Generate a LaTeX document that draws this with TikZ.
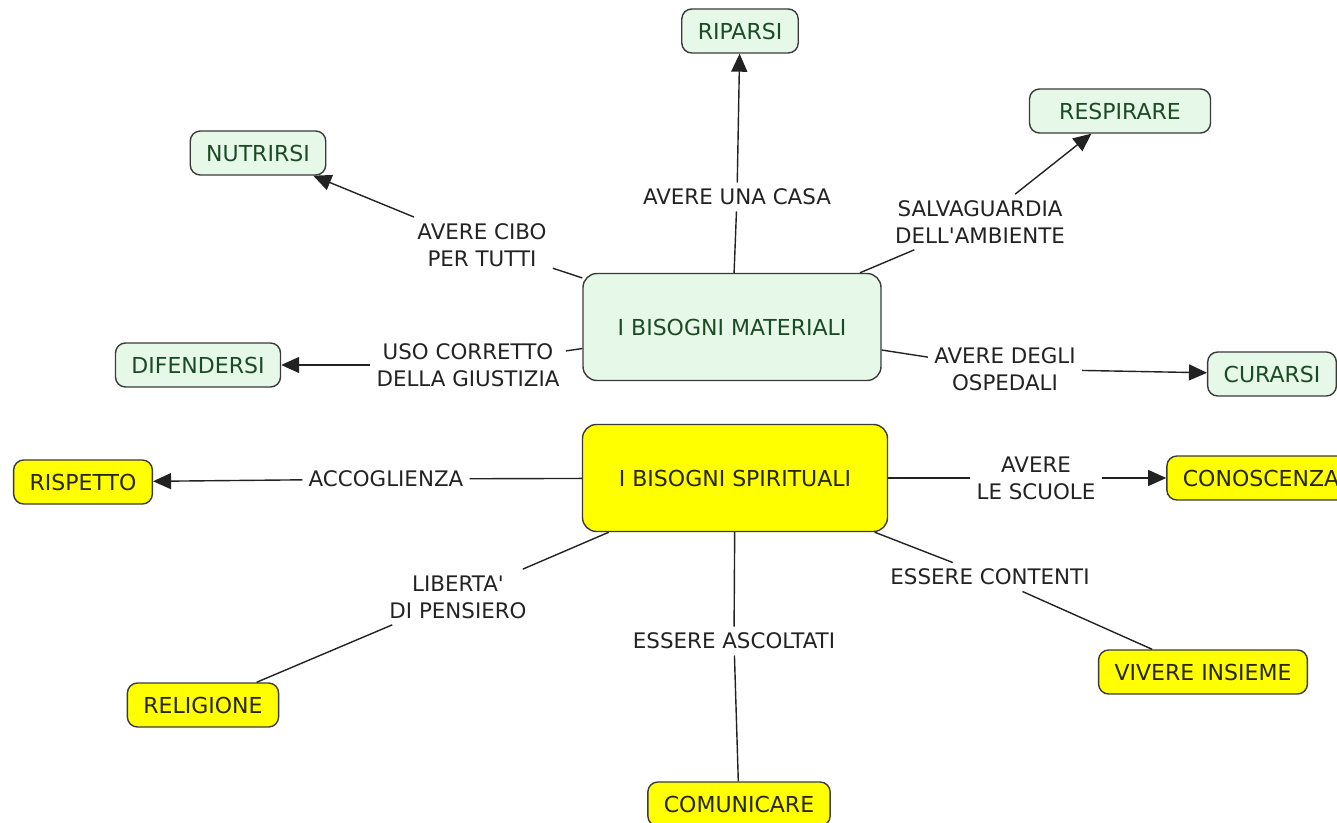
\documentclass[tikz,border=0pt]{standalone}
\usepackage{fontspec}
\setmainfont{DejaVu Sans}
\usetikzlibrary{arrows.meta}
\definecolor{matfill}{HTML}{E6F9E9}
\definecolor{mattext}{HTML}{1D4A26}
\definecolor{spifill}{HTML}{FFFF00}
\definecolor{spitext}{HTML}{262600}
\definecolor{boxline}{HTML}{3A3A3A}
\definecolor{linkgray}{HTML}{222222}
\tikzset{
	conceptbox/.style={draw=boxline, rounded corners=5pt, line width=0.7pt, minimum height=22pt, inner xsep=8pt, font=\fontsize{11}{13.5}\selectfont},
	matbox/.style={conceptbox, fill=matfill, text=mattext},
	spibox/.style={conceptbox, fill=spifill, text=spitext},
	bigbox/.style={minimum height=53.5pt, rounded corners=7pt},
	linklabel/.style={align=center, text=linkgray, inner sep=3pt, font=\fontsize{10.7}{13.5}\selectfont},
	link/.style={line width=0.7pt, draw=linkgray},
	arrowlink/.style={link, -{Triangle[length=9pt,width=8pt]}}
}
\begin{document}
\begin{tikzpicture}[x=0.5pt,y=-0.5pt]
			%%%%% START %%%%%
			\useasboundingbox (0,0) rectangle (1337,823);
			
			\node[matbox, bigbox, minimum width=149pt] (materiali) at (732,327) {I BISOGNI MATERIALI};
			\node[spibox, bigbox, minimum width=152.5pt] (spirituali) at (735,478) {I BISOGNI SPIRITUALI};
			
			\node[matbox] (riparsi) at (740,31) {RIPARSI};
			\node[matbox, minimum width=90.5pt] (respirare) at (1120,111) {RESPIRARE};
			\node[matbox] (nutrirsi) at (258,153) {NUTRIRSI};
			\node[matbox] (difendersi) at (198,365) {DIFENDERSI};
			\node[matbox] (curarsi) at (1272,374) {CURARSI};
			
			\node[spibox] (rispetto) at (83,482) {RISPETTO};
			\node[spibox] (conoscenza) at (1261,478) {CONOSCENZA};
			\node[spibox] (religione) at (203,705) {RELIGIONE};
			\node[spibox] (vivere) at (1203,672) {VIVERE INSIEME};
			\node[spibox] (comunicare) at (739,804) {COMUNICARE};
			
			\node[linklabel] (lcasa) at (737,197) {AVERE UNA CASA};
			\node[linklabel] (lcibo) at (482,245) {AVERE CIBO\\PER TUTTI};
			\node[linklabel] (lambiente) at (980,222) {SALVAGUARDIA\\DELL\textquotesingle AMBIENTE};
			\node[linklabel] (lgiustizia) at (468,365) {USO CORRETTO\\DELLA GIUSTIZIA};
			\node[linklabel] (lospedali) at (1005,369) {AVERE DEGLI\\OSPEDALI};
			
			\node[linklabel] (laccoglienza) at (386,479) {ACCOGLIENZA};
			\node[linklabel] (lscuole) at (1036,478) {AVERE\\LE SCUOLE};
			\node[linklabel] (lpensiero) at (458,597) {LIBERTA\textquotesingle\\DI PENSIERO};
			\node[linklabel] (lcontenti) at (990,577) {ESSERE CONTENTI};
			\node[linklabel] (lascoltati) at (734,641) {ESSERE ASCOLTATI};
			
			\draw[link] (materiali) -- (lcasa);
			\draw[arrowlink] (lcasa) -- (riparsi);
			\draw[link] (materiali) -- (lcibo);
			\draw[arrowlink] (lcibo) -- (nutrirsi);
			\draw[link] (materiali) -- (lambiente);
			\draw[arrowlink] (lambiente) -- (respirare);
			\draw[link] (materiali) -- (lgiustizia);
			\draw[arrowlink] (lgiustizia) -- (difendersi);
			\draw[link] (materiali) -- (lospedali);
			\draw[arrowlink] (lospedali) -- (curarsi);
			
			\draw[link] (spirituali) -- (laccoglienza);
			\draw[arrowlink] (laccoglienza) -- (rispetto);
			\draw[link] (spirituali) -- (lscuole);
			\draw[arrowlink] (lscuole) -- (conoscenza);
			\draw[link] (spirituali) -- (lpensiero);
			\draw[link] (lpensiero) -- (religione);
			\draw[link] (spirituali) -- (lcontenti);
			\draw[link] (lcontenti) -- (vivere);
			\draw[link] (spirituali) -- (lascoltati);
			\draw[link] (lascoltati) -- (comunicare);
			%%%%% END %%%%%
		\end{tikzpicture}
\end{document}
